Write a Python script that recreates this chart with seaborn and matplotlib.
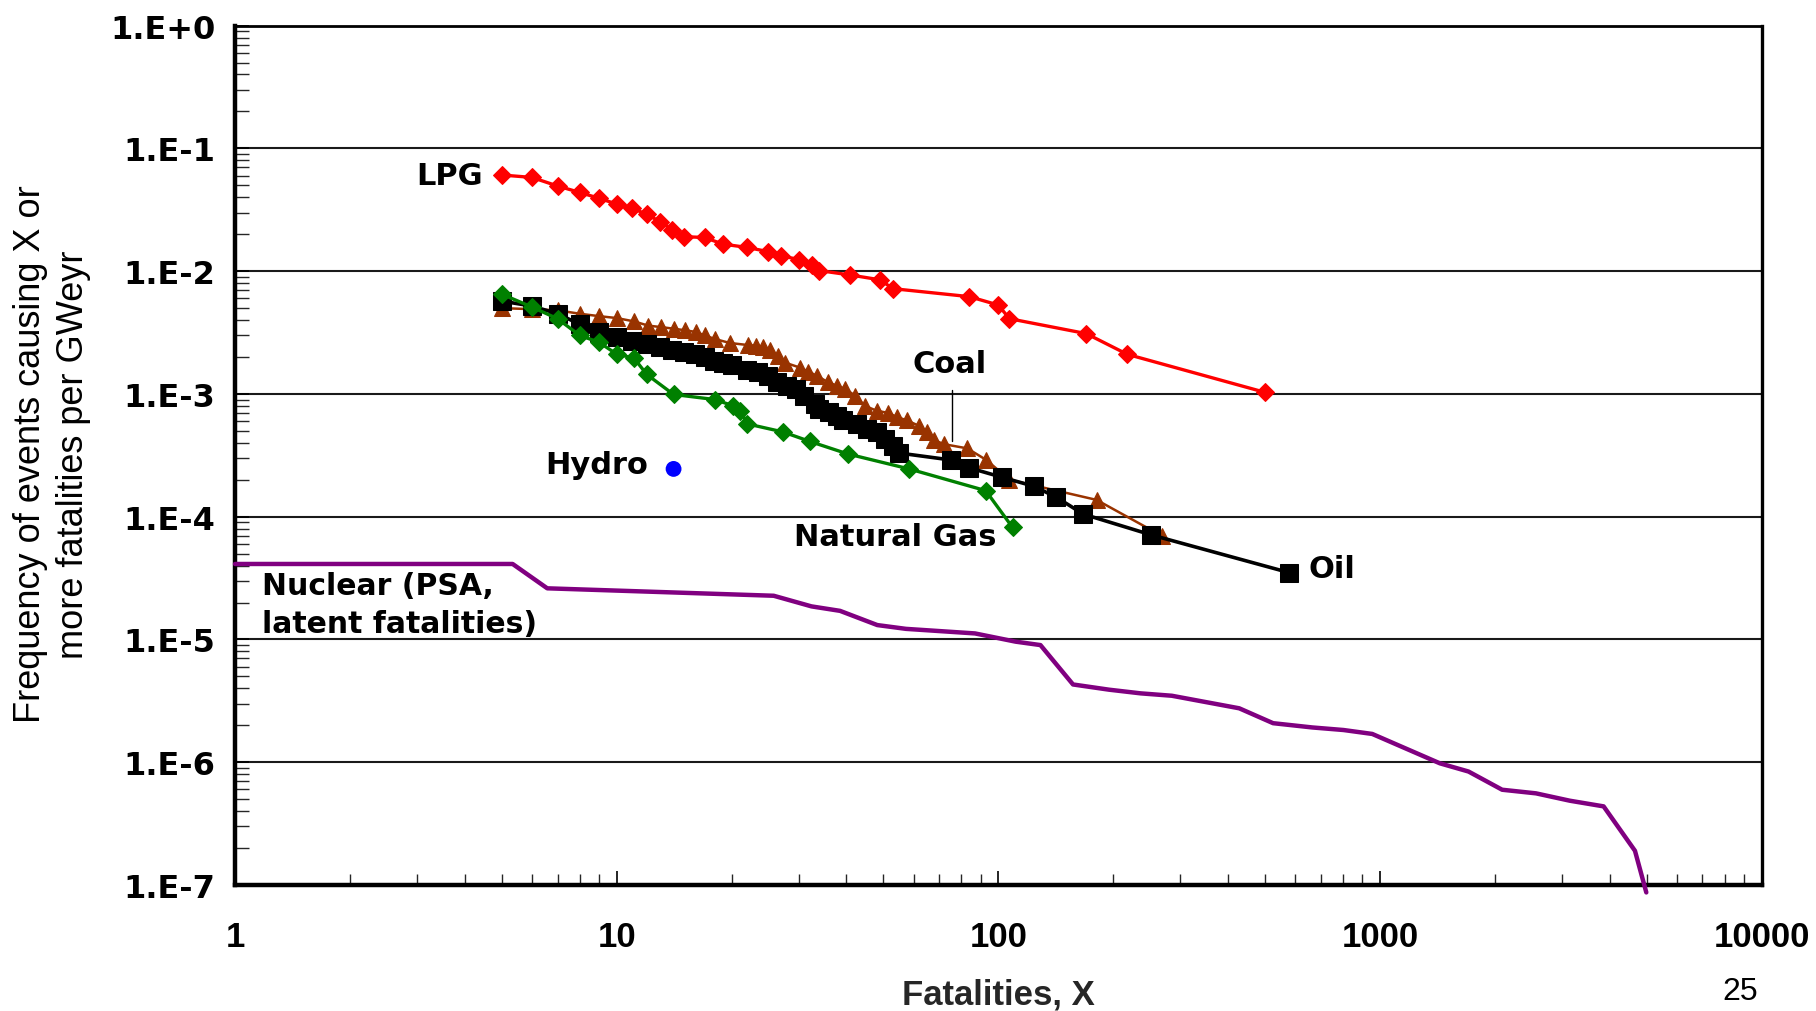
import numpy as np
import pandas as pd
import matplotlib
matplotlib.use("Agg")
import matplotlib.pyplot as plt
import seaborn as sns
from matplotlib.ticker import LogLocator, NullFormatter, FixedLocator, FixedFormatter

# ---------------- data ----------------
lpg_x = [5, 6, 7, 8, 9, 10, 11, 12, 13, 14, 15, 17, 19, 22, 25, 27, 30, 32.5, 34,
         41, 49, 53, 84, 100, 107, 170, 218, 500]
lpg_y = [0.0607, 0.058, 0.0494, 0.0438, 0.0392, 0.0352, 0.0325, 0.029, 0.0253, 0.0217,
         0.0191, 0.0188, 0.0166, 0.0156, 0.0144, 0.0134, 0.0124, 0.0113, 0.0101,
         0.0093, 0.0085, 0.0072, 0.0062, 0.0053, 0.0041, 0.0031, 0.0021, 0.00103]

coal_x = [5, 6, 7, 8, 9, 10, 11.1, 12.1, 13.1, 14.1, 15.1, 16.1, 17, 18.1, 19.8, 22.1,
          23.2, 24.2, 25.2, 26.5, 27.6, 30.2, 31.8, 33.4, 35.9, 37.7, 39.7, 42.1, 44.7,
          48, 51.5, 54.2, 57.5, 62, 65, 68, 72, 83, 93, 107, 181, 268]
coal_y = [0.0050, 0.0049, 0.0048, 0.0045, 0.0043, 0.00415, 0.0039, 0.0036, 0.0035,
          0.0034, 0.0033, 0.0032, 0.0030, 0.0028, 0.0026, 0.0025, 0.00247, 0.0024,
          0.0023, 0.00205, 0.0018, 0.00164, 0.00152, 0.00141, 0.00124, 0.00117,
          0.0011, 0.00097, 0.0008, 0.00073, 0.0007, 0.00065, 0.00061, 0.00055,
          0.00049, 0.00042, 0.00039, 0.00036, 0.00029, 0.0002, 0.000137, 0.00007]

oil_x = [5, 6, 7, 8, 9, 10, 11, 12, 13, 14, 15, 16, 17, 18, 19, 20, 22, 23.5, 25,
         26.3, 28, 29.6, 31, 33, 34, 36, 37.7, 39.3, 42.6, 45.2, 48, 50.5, 53, 55,
         75, 84, 102, 124, 142, 167, 252, 579]
oil_y = [0.0057, 0.0052, 0.0045, 0.0037, 0.0032, 0.0029, 0.0027, 0.00255, 0.0024,
         0.0023, 0.0022, 0.0021, 0.0020, 0.00186, 0.0018, 0.00172, 0.00157, 0.0015,
         0.00141, 0.00124, 0.00115, 0.0011, 0.00097, 0.00083, 0.00075, 0.00071,
         0.00066, 0.00061, 0.00057, 0.00052, 0.00049, 0.00043, 0.00038, 0.00033,
         0.00029, 0.00025, 0.00021, 0.000177, 0.000144, 0.000105, 0.000071, 0.000035]

gas_x = [5, 6, 7, 8, 9, 10, 11.1, 12, 14.1, 18.1, 20.2, 21.1, 22, 27.3, 32.1, 40.4,
         58.4, 92.7, 109]
gas_y = [0.0065, 0.0051, 0.0041, 0.003, 0.00263, 0.00211, 0.00196, 0.00144, 0.00099,
         0.0009, 0.0008, 0.00073, 0.00057, 0.00049, 0.00041, 0.000324, 0.000245,
         0.000163, 0.0000818]

hydro_x = [14.1]
hydro_y = [0.000245]

nuc_x = [1, 5.34, 6.58, 25.8, 32.4, 38.5, 48.2, 57.3, 86.9, 111, 129, 157, 195, 236,
         285, 428, 525, 665, 803, 955, 1436, 1707, 2091, 2564, 3145, 3857, 4660, 4990]
nuc_y = [4.12e-5, 4.12e-5, 2.61e-5, 2.27e-5, 1.86e-5, 1.71e-5, 1.31e-5, 1.22e-5,
         1.12e-5, 9.6e-6, 9.0e-6, 4.3e-6, 3.9e-6, 3.64e-6, 3.48e-6, 2.75e-6, 2.08e-6,
         1.92e-6, 1.83e-6, 1.70e-6, 9.8e-7, 8.4e-7, 5.97e-7, 5.58e-7, 4.86e-7,
         4.37e-7, 1.9e-7, 8.7e-8]

y_ticks = [1e0, 1e-1, 1e-2, 1e-3, 1e-4, 1e-5, 1e-6, 1e-7]
y_labels = ["1.E+0", "1.E-1", "1.E-2", "1.E-3", "1.E-4", "1.E-5", "1.E-6", "1.E-7"]
x_ticks = [1, 10, 100, 1000, 10000]
x_labels = ["1", "10", "100", "1000", "10000"]

# ---------------- styling ----------------
sns.set_theme(style="white")
plt.rcParams["font.family"] = ["DejaVu Sans"]
NARROW = ["Liberation Sans Narrow", "Liberation Sans", "DejaVu Sans"]

fig = plt.figure(figsize=(18.16, 10.12), dpi=100)
ax = fig.add_axes([0.1294, 0.1245, 0.8406, 0.8492])
ax.set_xscale("log")
ax.set_yscale("log")

COAL = "#993300"
sns.lineplot(x=coal_x, y=coal_y, ax=ax, color=COAL, marker="^", markersize=12,
             markeredgecolor=COAL, linewidth=1.8, sort=False, estimator=None, zorder=3)
sns.lineplot(x=oil_x, y=oil_y, ax=ax, color="black", marker="s", markersize=12.5,
             markeredgecolor="black", linewidth=2.6, sort=False, estimator=None, zorder=4)
sns.lineplot(x=gas_x, y=gas_y, ax=ax, color="#008000", marker="D", markersize=9.5,
             markeredgecolor="#008000", linewidth=2.4, sort=False, estimator=None, zorder=5)
sns.lineplot(x=lpg_x, y=lpg_y, ax=ax, color="#FF0000", marker="D", markersize=9.5,
             markeredgecolor="#FF0000", linewidth=2.4, sort=False, estimator=None, zorder=5)
sns.scatterplot(x=hydro_x, y=hydro_y, ax=ax, color="#0000FF", s=130, edgecolor="none",
                zorder=5)
nl = sns.lineplot(x=nuc_x, y=nuc_y, ax=ax, color="#800080", linewidth=3.2, sort=False,
                  estimator=None, zorder=5)
nl.lines[-1].set_clip_on(False)

ax.set_xlim(1, 10000)
ax.set_ylim(1e-7, 1)

# grid
ax.set_axisbelow(True)
ax.yaxis.grid(True, which="major", color="#1a1a1a", linewidth=1.5)
ax.xaxis.grid(False)

# ticks
ax.yaxis.set_major_locator(FixedLocator(y_ticks))
ax.yaxis.set_major_formatter(FixedFormatter(y_labels))
ax.yaxis.set_minor_locator(LogLocator(base=10, subs=np.arange(2, 10), numticks=20))
ax.yaxis.set_minor_formatter(NullFormatter())
ax.xaxis.set_major_locator(FixedLocator(x_ticks))
ax.xaxis.set_major_formatter(FixedFormatter(x_labels))
ax.xaxis.set_minor_locator(LogLocator(base=10, subs=np.arange(2, 10), numticks=20))
ax.xaxis.set_minor_formatter(NullFormatter())

ax.tick_params(axis="y", which="major", direction="in", length=10, width=1.2,
               left=True, pad=14, colors="black")
ax.tick_params(axis="y", which="minor", direction="in", length=10, width=1.0, left=True)
ax.tick_params(axis="x", which="major", direction="in", length=10, width=1.2,
               bottom=True, pad=25, colors="black")
ax.tick_params(axis="x", which="minor", direction="in", length=8, width=1.0, bottom=True)

for lab in ax.get_yticklabels():
    lab.set_fontsize(23)
    lab.set_fontweight("bold")
    lab.set_family("DejaVu Sans")
for lab in ax.get_xticklabels():
    lab.set_fontsize(25)
    lab.set_fontweight("bold")
    lab.set_family(NARROW)

for side, lw in [("left", 3.2), ("bottom", 3.2), ("top", 2.0), ("right", 2.4)]:
    ax.spines[side].set_visible(True)
    ax.spines[side].set_color("black")
    ax.spines[side].set_linewidth(lw)

ax.set_xlabel("Fatalities, X", fontsize=25, fontweight="bold", family=NARROW, labelpad=18)
fig.text(0.0287, 0.551, "Frequency of events causing X or\nmore fatalities per GWeyr",
         rotation=90, ha="center", va="center", multialignment="center",
         fontsize=26, family=NARROW, color="black", linespacing=1.3)

# ---------------- annotations ----------------
lab_kw = dict(fontsize=22, fontweight="bold", color="black", family="DejaVu Sans")
ax.text(4.45, 0.0607, "LPG", ha="right", va="center", **lab_kw)
ax.text(74.5, 0.00176, "Coal", ha="center", va="center", **lab_kw)
ax.plot([75.6, 75.6], [0.00107, 0.00041], color="black", linewidth=1.0, zorder=2)
ax.text(12.1, 0.000266, "Hydro", ha="right", va="center", **lab_kw)
ax.text(53.6, 0.000069, "Natural Gas", ha="center", va="center", **lab_kw)
ax.text(650, 0.0000377, "Oil", ha="left", va="center", **lab_kw)
ax.text(1.18, 0.0000194, "Nuclear (PSA,\nlatent fatalities)", ha="left", va="center",
        linespacing=1.4, fontsize=21.5, fontweight="bold", color="black",
        family="DejaVu Sans")

fig.text(0.958, 0.005, "25", fontsize=23, family=NARROW, color="black", ha="center",
         va="bottom")

fig.savefig("out.png", dpi=100, facecolor="white")
